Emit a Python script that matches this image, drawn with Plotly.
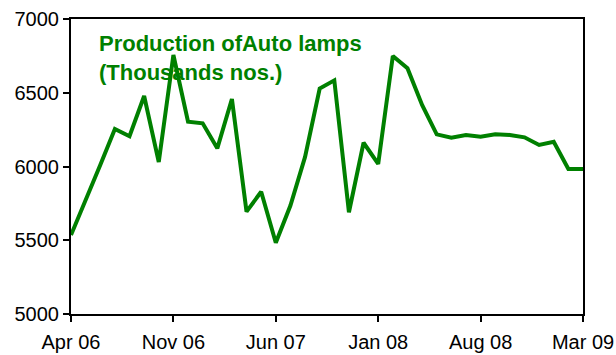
import plotly.graph_objects as go

months = ["Apr 06", "May 06", "Jun 06", "Jul 06", "Aug 06", "Sep 06", "Oct 06", "Nov 06",
          "Dec 06", "Jan 07", "Feb 07", "Mar 07", "Apr 07", "May 07", "Jun 07", "Jul 07",
          "Aug 07", "Sep 07", "Oct 07", "Nov 07", "Dec 07", "Jan 08", "Feb 08", "Mar 08",
          "Apr 08", "May 08", "Jun 08", "Jul 08", "Aug 08", "Sep 08", "Oct 08", "Nov 08",
          "Dec 08", "Jan 09", "Feb 09", "Mar 09"]
production = [5535, 5765, 6010, 6255, 6205, 6478, 6030, 6756,
              6304, 6293, 6123, 6458, 5694, 5829, 5483, 5735,
              6065, 6528, 6584, 5690, 6161, 6017, 6749, 6666,
              6417, 6218, 6195, 6214, 6202, 6218, 6214, 6198,
              6146, 6168, 5983, 5983]
tick_labels = ["Apr 06", "Nov 06", "Jun 07", "Jan 08", "Aug 08", "Mar 09"]

green = "#008000"

fig = go.Figure()
fig.add_trace(go.Scatter(
    x=months, y=production, mode="lines",
    line=dict(color=green, width=4),
    hoverinfo="skip", showlegend=False,
))

fig.add_annotation(
    text="<b>Production ofAuto lamps<br>(Thousands nos.)</b>",
    xref="paper", yref="paper", x=0.05, y=0.965,
    xanchor="left", yanchor="top", align="left", showarrow=False,
    font=dict(family="Arial, Liberation Sans, sans-serif", size=22, color=green),
)

axis_font = dict(family="Arial, Liberation Sans, sans-serif", size=20, color="black")
fig.update_xaxes(
    type="category", range=[0, len(months) - 1],
    tickmode="array", tickvals=tick_labels, ticktext=tick_labels,
    showline=True, linecolor="black", linewidth=2, mirror=True,
    ticks="outside", ticklen=6, tickwidth=2, tickcolor="black",
    showgrid=False, zeroline=False, tickfont=axis_font, automargin=False,
    ticklabelstandoff=3,
)
fig.update_yaxes(
    range=[5000, 7000], tickvals=[5000, 5500, 6000, 6500, 7000],
    showline=True, linecolor="black", linewidth=2, mirror=True,
    ticks="outside", ticklen=6, tickwidth=2, tickcolor="black",
    showgrid=False, zeroline=False, tickfont=axis_font, automargin=False,
)
fig.update_layout(
    width=616, height=355,
    margin=dict(l=71, r=33, t=19, b=41, autoexpand=False),
    plot_bgcolor="white", paper_bgcolor="white",
)

fig.write_html("out.html")
